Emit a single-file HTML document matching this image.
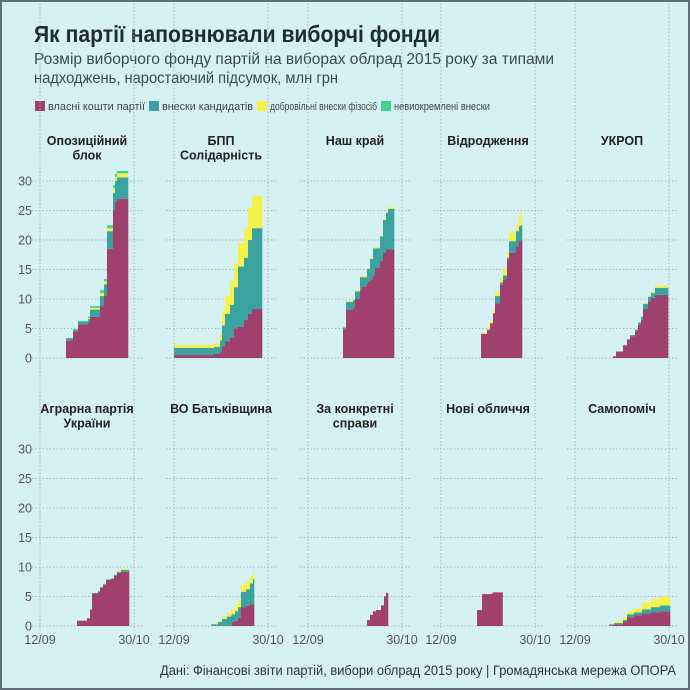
<!DOCTYPE html>
<html><head><meta charset="utf-8"><style>
html,body{margin:0;padding:0;background:#d6f1f4;}
#c{position:relative;width:686px;height:686px;border:2px solid #5f6e78;background:#d6f1f4;overflow:hidden;font-family:"Liberation Sans","DejaVu Sans",sans-serif;}
svg{position:absolute;left:-2px;top:-2px;}
</style></head><body><div id="c">
<svg id="s" width="690" height="690" xmlns="http://www.w3.org/2000/svg" font-family="Liberation Sans, DejaVu Sans, sans-serif">
<text x="34" y="42" font-size="23" font-weight="bold" fill="#1f2d33" textLength="406" lengthAdjust="spacingAndGlyphs">Як партії наповнювали виборчі фонди</text>
<text x="34" y="64" font-size="16" fill="#3a4a52" textLength="520" lengthAdjust="spacingAndGlyphs">Розмір виборчого фонду партій на виборах облрад 2015 року за типами</text>
<text x="34" y="83" font-size="16" fill="#3a4a52" textLength="304" lengthAdjust="spacingAndGlyphs">надходжень, наростаючий підсумок, млн грн</text>
<rect x="35" y="101" width="10" height="10" fill="#a0406f"/>
<text x="48" y="110" font-size="11" fill="#444" textLength="97" lengthAdjust="spacingAndGlyphs">власні кошти партії</text>
<rect x="149" y="101" width="10" height="10" fill="#3aa3a0"/>
<text x="162" y="110" font-size="11" fill="#444" textLength="91" lengthAdjust="spacingAndGlyphs">внески кандидатів</text>
<rect x="257" y="101" width="10" height="10" fill="#f3f34a"/>
<text x="270" y="110" font-size="11" fill="#444" textLength="107" lengthAdjust="spacingAndGlyphs">добровільні внески фізосіб</text>
<rect x="381" y="101" width="10" height="10" fill="#3fd38f"/>
<text x="394" y="110" font-size="11" fill="#444" textLength="96" lengthAdjust="spacingAndGlyphs">невиокремлені внески</text>
<text x="676" y="675" font-size="13.5" fill="#333" text-anchor="end" textLength="516" lengthAdjust="spacingAndGlyphs">Дані: Фінансові звіти партій, вибори облрад 2015 року | Громадянська мережа ОПОРА</text>
<g id="g"></g>
</svg></div>
<script>
var X0=[40,174,308,441,575],S=5.9,W=94;
var P=[
{t:["Опозиційний","блок"],d:[[26,3,3.3,3.3,3.4],[33,4.5,4.8,4.8,4.9],[38,5.7,6.1,6.1,6.3],[48,6,6.6,6.8,7],[50,7,8.2,8.5,8.8],[60,8.8,10.5,11,11.5],[64,10.5,12.5,13,13.4],[67,18.5,21.5,22,22.5],[73,25,28,28.8,29.3],[75,26.5,30,30.7,31.2],[77,27,30.6,31.3,31.7]],e:88},
{t:["БПП","Солідарність"],d:[[0,0.5,1.7,2.2,2.2],[40,0.7,1.9,2.5,2.5],[46,1,3,4,4],[48,2,5.5,8,8],[51,2.8,7.5,10.5,10.5],[56,3.5,9,13,13],[60,5,12,16,16],[64,5.3,15.5,19.5,19.5],[70,6.5,17,22,22],[74,7.5,20,25.5,25.5],[78,8.3,22,27.5,27.5]],e:88},
{t:["Наш край"],d:[[35,4.9,5.2,5.3,5.3],[38,8.2,9.5,9.7,9.7],[45,8.6,9.8,10,10],[47,10,11.3,11.5,11.5],[52,11.5,13.7,13.9,13.9],[54,12.1,13.7,13.9,13.9],[59,12.6,15.1,15.3,15.3],[60,13,15.1,15.3,15.3],[62,13.3,16.8,17,17],[65,14,18.6,18.8,18.8],[67,15.3,18.6,18.8,18.8],[72,16.5,20.6,20.8,20.8],[75,17.8,23.4,23.7,23.7],[78,18.4,24.6,25,25],[80,18.4,25.3,25.6,25.6]],e:86},
{t:["Відродження"],d:[[40,4.1,4.1,4.3,4.3],[46,4.8,4.8,5.2,5.2],[49,5.9,5.9,6.3,6.3],[52,7.6,7.6,8.3,8.3],[54,9.3,10.5,11.2,11.2],[59,12.4,12.8,13.6,13.6],[62,13.3,14,15,15],[66,16.7,17,18,18],[68,17.8,19.8,21.3,21.3],[75,18.9,21.5,22.6,22.6],[78,19.9,22.4,24.3,24.3],[80,20,22.5,24.6,24.6]],e:81},
{t:["УКРОП"],d:[[38,0.3,0.3,0.3,0.3],[41,1.1,1.1,1.1,1.1],[48,2.1,2.2,2.2,2.2],[52,3.1,3.2,3.2,3.2],[55,3.7,3.9,3.9,3.9],[60,4.5,4.8,4.8,4.8],[63,5.6,6,6,6],[66,6.5,7,7,7],[68,8.3,9.2,9.3,9.3],[73,9.6,10.4,10.5,10.5],[76,10.2,11,11.2,11.2],[80,10.7,11.9,12.3,12.3]],e:93},
{t:["Аграрна партія","України"],d:[[37,0.9,0.9,0.9,0.9],[47,1.3,1.3,1.3,1.3],[50,2.8,2.8,2.8,2.8],[52,5.5,5.6,5.6,5.6],[58,5.8,5.9,5.9,5.9],[60,6.5,6.6,6.6,6.6],[63,7,7.1,7.1,7.1],[66,7.8,7.9,7.9,7.9],[71,8,8.1,8.2,8.2],[74,8.5,8.7,8.8,8.8],[77,9,9.2,9.4,9.4],[81,9.2,9.5,9.7,9.7]],e:89},
{t:["ВО Батьківщина"],d:[[37,0.05,0.3,0.4,0.4],[44,0.05,0.7,0.9,0.9],[48,0.05,1.2,1.6,1.6],[53,0.05,1.6,2.2,2.2],[57,0.1,1.8,2.6,2.6],[58,0.7,2,2.8,2.8],[61,0.9,2.5,3.5,3.5],[64,1.4,3.2,4.4,4.4],[67,3.2,5.8,7,7],[72,3.4,6.2,7.5,7.5],[76,3.7,7.2,8.5,8.5],[79,3.7,8,9.3,9.3]],e:80},
{t:["За конкретні","справи"],d:[[59,1,1,1,1],[62,1.9,1.9,1.9,1.9],[65,2.5,2.5,2.5,2.5],[68,2.7,2.7,2.7,2.7],[73,3.5,3.5,3.5,3.5],[76,5,5,5,5],[78,5.6,5.6,5.6,5.6]],e:80},
{t:["Нові обличчя"],d:[[36,2.7,2.7,2.7,2.7],[41,5.4,5.4,5.4,5.4],[50,5.5,5.5,5.5,5.5],[52,5.7,5.7,5.7,5.7]],e:61.5},
{t:["Самопоміч"],d:[[34,0.1,0.3,0.4,0.4],[39,0.3,0.5,0.8,0.8],[48,0.8,1,1.5,1.5],[52,1.5,2,2.5,2.5],[59,1.8,2.3,3,3],[67,2.1,2.8,4,4],[76,2.3,3.2,4.6,4.6],[85,2.5,3.5,5,5]],e:95}
];
var C=["#a0406f","#3aa3a0","#f3f34a","#3fd38f"];
var h="";
for(var i=0;i<10;i++){
 var col=i%5,row=Math.floor(i/5),x0=X0[col],y0=row?626:358,top=row?443:172;
 var p=P[i];
 // grid
 for(var v=0;v<=30;v+=5){var y=y0-v*S;h+='<line x1="'+(x0-8)+'" x2="'+(x0+W+8)+'" y1="'+y+'" y2="'+y+'" stroke="#9fb7bd" stroke-width="1" stroke-dasharray="1.5,2"/>';
  if(col==0)h+='<text x="32" y="'+(y+4.5)+'" font-size="12.5" fill="#555" text-anchor="end">'+v+'</text>';}
 h+='<line x1="'+x0+'" x2="'+x0+'" y1="'+top+'" y2="'+(y0+5)+'" stroke="#9fb7bd" stroke-dasharray="1.5,2"/>';
 h+='<line x1="'+(x0+W)+'" x2="'+(x0+W)+'" y1="'+top+'" y2="'+(y0+5)+'" stroke="#9fb7bd" stroke-dasharray="1.5,2"/>';
 // title
 var ty=row?413:145;
 for(var k=0;k<p.t.length;k++)h+='<text x="'+(x0+47)+'" y="'+(ty+k*14.5)+'" font-size="12.5" font-weight="bold" fill="#222" text-anchor="middle">'+p.t[k]+'</text>';
 if(row){h+='<text x="'+x0+'" y="'+(y0+18)+'" font-size="12.5" fill="#555" text-anchor="middle">12/09</text>';
  h+='<text x="'+(x0+W)+'" y="'+(y0+18)+'" font-size="12.5" fill="#555" text-anchor="middle">30/10</text>';}
 // bars
 var d=p.d;
 for(var j=0;j<d.length;j++){
  var xa=x0+d[j][0],xb=x0+(j+1<d.length?d[j+1][0]:p.e),prev=0;
  for(var c=0;c<4;c++){var val=d[j][c+1];if(val>prev){h+='<rect x="'+xa+'" y="'+(y0-val*S)+'" width="'+(xb-xa+0.3)+'" height="'+((val-prev)*S)+'" fill="'+C[c]+'"/>';}prev=Math.max(prev,val);}
 }
}
document.getElementById("g").innerHTML=h;
</script>
</body></html>
